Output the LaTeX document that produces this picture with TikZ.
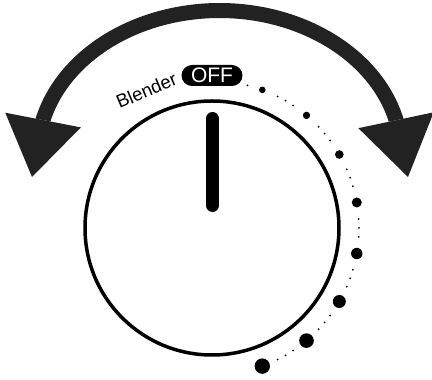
\documentclass[tikz,border=0pt]{standalone}
\usepackage{fontspec}
\setmainfont{Liberation Sans}
\usetikzlibrary{arrows.meta}
\definecolor{arrowgray}{HTML}{222222}

\begin{document}
\begin{tikzpicture}[
  x=1pt,y=1pt,
  knob/.style={circle,draw=black,fill=white,line width=3.5pt,minimum size=254pt,inner sep=0pt},
  pointer/.style={line width=13pt,draw=black,line cap=round},
  dot/.style={circle,fill=black,inner sep=0pt},
  tiny/.style={circle,fill=black,inner sep=0pt,minimum size=2pt},
  offpill/.style={rectangle,fill=black,rounded corners=10.5pt,minimum width=61pt,minimum height=21pt,inner sep=0pt,text=white,font=\fontsize{21}{21}\selectfont},
  bigarrow/.style={line width=15pt,draw=arrowgray,
    {Triangle[length=58pt,width=77pt,line width=0pt]}-{Triangle[length=58pt,width=77pt,line width=0pt]}}
]
\useasboundingbox (0,0) rectangle (432,380);

\coordinate (C) at (212,152);
\node[knob] (knob) at (C) {};
\coordinate (ptop) at (212.5,261.5);
\coordinate (pbot) at (212.5,174.5);
\draw[pointer] (ptop)--(pbot);

\node[offpill] (off) at (212,304.5) {OFF};
\node[anchor=base,rotate=23,font=\fontsize{18.5}{18.5}\selectfont] (blender) at (149,283.5) {Blender};

% speed marks
\foreach \a/\s [count=\i] in {70/6.6,50/7.4,30/8.6,10/10,-10/11.4,-30/13,-50/14.6,-70/15.4}{
  \node[dot,minimum size=\s pt] (d\i) at ([shift={(\a:147)}]C) {};
}
\node[tiny] (t0) at ([shift={(76:147)}]C) {};
\foreach \m [count=\j] in {60,40,20,0,-20,-40,-60}{
  \node[tiny] (ta\j) at ([shift={(\m+3.5:147)}]C) {};
  \node[tiny] (tb\j) at ([shift={(\m:147)}]C) {};
  \node[tiny] (tc\j) at ([shift={(\m-3.5:147)}]C) {};
}

% turning arrow
\coordinate (tipR) at (408,203);
\coordinate (baseR) at (395.8,260.9);
\coordinate (tipL) at (32,203);
\draw[bigarrow] (tipR)--(baseR) arc[start angle=14.4,end angle=165.6,x radius=182,y radius=144.5]--(tipL);
\end{tikzpicture}
\end{document}
